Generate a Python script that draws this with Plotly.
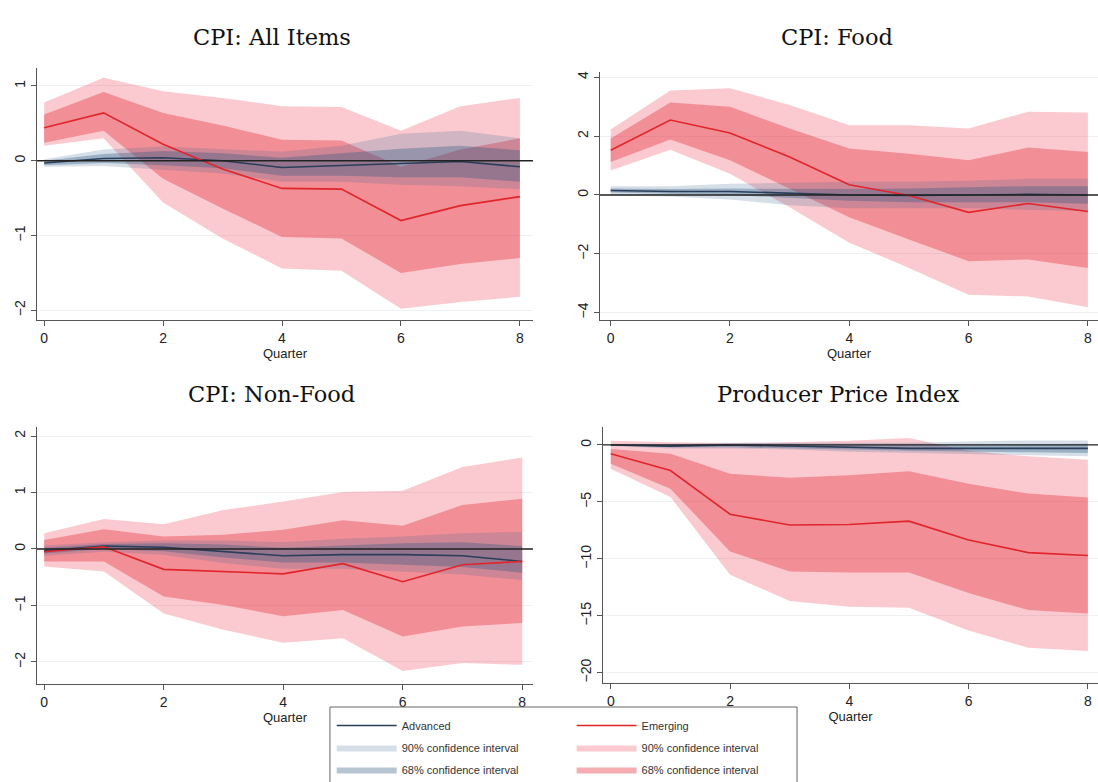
import plotly.graph_objects as go

quarters = [0, 1, 2, 3, 4, 5, 6, 7, 8]
titles = ["CPI: All Items", "CPI: Food", "CPI: Non-Food", "Producer Price Index"]

# ---- Panel 1: CPI All Items ----
p1_em = [0.44, 0.64, 0.22, -0.11, -0.37, -0.38, -0.80, -0.60, -0.48]
p1_em68_lo = [0.24, 0.40, -0.24, -0.64, -1.02, -1.04, -1.50, -1.38, -1.30]
p1_em68_hi = [0.62, 0.92, 0.64, 0.47, 0.28, 0.27, -0.08, 0.15, 0.30]
p1_em90_lo = [0.20, 0.30, -0.56, -1.04, -1.44, -1.47, -1.98, -1.89, -1.82]
p1_em90_hi = [0.78, 1.11, 0.93, 0.84, 0.73, 0.72, 0.40, 0.73, 0.84]
p1_ad = [-0.03, 0.03, 0.04, 0.00, -0.09, -0.06, -0.04, -0.01, -0.08]
p1_ad68_lo = [-0.06, -0.03, -0.06, -0.10, -0.20, -0.20, -0.22, -0.22, -0.28]
p1_ad68_hi = [0.00, 0.09, 0.13, 0.10, 0.04, 0.10, 0.16, 0.20, 0.14]
p1_ad90_lo = [-0.08, -0.07, -0.12, -0.17, -0.28, -0.28, -0.32, -0.34, -0.38]
p1_ad90_hi = [0.02, 0.15, 0.19, 0.16, 0.12, 0.20, 0.36, 0.40, 0.30]

# ---- Panel 2: CPI Food ----
p2_em = [1.52, 2.55, 2.11, 1.29, 0.35, -0.02, -0.59, -0.29, -0.56]
p2_em68_lo = [1.12, 1.89, 1.18, 0.21, -0.76, -1.51, -2.25, -2.19, -2.48]
p2_em68_hi = [1.92, 3.14, 3.00, 2.26, 1.58, 1.40, 1.18, 1.61, 1.46]
p2_em90_lo = [0.83, 1.54, 0.72, -0.42, -1.62, -2.48, -3.39, -3.45, -3.82]
p2_em90_hi = [2.23, 3.55, 3.63, 3.06, 2.37, 2.37, 2.26, 2.83, 2.80]
p2_ad = [0.15, 0.12, 0.12, 0.05, 0.00, -0.02, 0.00, 0.02, 0.00]
p2_ad68_lo = [0.08, 0.04, 0.00, -0.10, -0.20, -0.25, -0.25, -0.25, -0.30]
p2_ad68_hi = [0.22, 0.20, 0.22, 0.20, 0.20, 0.22, 0.25, 0.30, 0.30]
p2_ad90_lo = [0.00, -0.05, -0.15, -0.35, -0.45, -0.45, -0.45, -0.50, -0.55]
p2_ad90_hi = [0.30, 0.30, 0.38, 0.42, 0.45, 0.45, 0.48, 0.55, 0.55]

# ---- Panel 3: CPI Non-Food ----
p3_em = [-0.05, 0.04, -0.36, -0.40, -0.44, -0.26, -0.58, -0.28, -0.22]
p3_em68_lo = [-0.22, -0.22, -0.84, -0.99, -1.19, -1.08, -1.55, -1.37, -1.31]
p3_em68_hi = [0.16, 0.35, 0.22, 0.25, 0.34, 0.51, 0.41, 0.78, 0.89]
p3_em90_lo = [-0.31, -0.40, -1.14, -1.43, -1.66, -1.58, -2.16, -2.02, -2.05]
p3_em90_hi = [0.28, 0.53, 0.44, 0.69, 0.84, 1.01, 1.03, 1.45, 1.62]
p3_ad = [-0.03, 0.05, 0.03, -0.04, -0.12, -0.10, -0.10, -0.12, -0.22]
p3_ad68_lo = [-0.08, 0.00, -0.04, -0.15, -0.24, -0.24, -0.28, -0.32, -0.42]
p3_ad68_hi = [0.02, 0.09, 0.10, 0.08, 0.02, 0.06, 0.10, 0.12, 0.05]
p3_ad90_lo = [-0.12, -0.05, -0.10, -0.25, -0.35, -0.35, -0.40, -0.45, -0.55]
p3_ad90_hi = [0.06, 0.12, 0.15, 0.15, 0.12, 0.18, 0.22, 0.28, 0.30]

# ---- Panel 4: Producer Price Index ----
p4_em = [-0.78, -2.24, -6.08, -7.03, -6.98, -6.69, -8.34, -9.45, -9.71]
p4_em68_lo = [-1.66, -3.84, -9.36, -11.1, -11.2, -11.2, -13.0, -14.5, -14.8]
p4_em68_hi = [-0.35, -0.78, -2.53, -2.88, -2.67, -2.30, -3.40, -4.27, -4.62]
p4_em90_lo = [-2.09, -4.56, -11.4, -13.7, -14.2, -14.3, -16.3, -17.8, -18.1]
p4_em90_hi = [0.38, 0.23, 0.17, 0.23, 0.38, 0.61, -0.50, -1.00, -1.30]
p4_ad = [0.00, -0.10, 0.00, -0.10, -0.20, -0.30, -0.30, -0.30, -0.30]
p4_ad68_lo = [-0.05, -0.20, -0.20, -0.30, -0.40, -0.50, -0.60, -0.65, -0.70]
p4_ad68_hi = [0.05, 0.00, 0.10, 0.10, 0.00, 0.00, 0.00, 0.05, 0.10]
p4_ad90_lo = [-0.10, -0.30, -0.30, -0.40, -0.60, -0.70, -0.80, -0.90, -1.00]
p4_ad90_hi = [0.10, 0.10, 0.20, 0.20, 0.20, 0.20, 0.30, 0.40, 0.40]

panels = [
    dict(em=p1_em, em68=(p1_em68_lo, p1_em68_hi), em90=(p1_em90_lo, p1_em90_hi),
         ad=p1_ad, ad68=(p1_ad68_lo, p1_ad68_hi), ad90=(p1_ad90_lo, p1_ad90_hi)),
    dict(em=p2_em, em68=(p2_em68_lo, p2_em68_hi), em90=(p2_em90_lo, p2_em90_hi),
         ad=p2_ad, ad68=(p2_ad68_lo, p2_ad68_hi), ad90=(p2_ad90_lo, p2_ad90_hi)),
    dict(em=p3_em, em68=(p3_em68_lo, p3_em68_hi), em90=(p3_em90_lo, p3_em90_hi),
         ad=p3_ad, ad68=(p3_ad68_lo, p3_ad68_hi), ad90=(p3_ad90_lo, p3_ad90_hi)),
    dict(em=p4_em, em68=(p4_em68_lo, p4_em68_hi), em90=(p4_em90_lo, p4_em90_hi),
         ad=p4_ad, ad68=(p4_ad68_lo, p4_ad68_hi), ad90=(p4_ad90_lo, p4_ad90_hi)),
]

x_ranges = [[-0.12, 8.22], [-0.18, 8.17], [-0.12, 8.18], [-0.13, 8.17]]
y_ranges = [[-2.13, 1.24], [-4.25, 4.18], [-2.39, 2.16], [-20.9, 1.58]]
y_ticks = [[-2, -1, 0, 1], [-4, -2, 0, 2, 4], [-2, -1, 0, 1, 2], [-20, -15, -10, -5, 0]]
x_domains = [[0.0337, 0.4854], [0.5464, 1.0], [0.0337, 0.4854], [0.5492, 1.0]]
y_domains = [[0.5908, 0.9130], [0.5908, 0.9079], [0.1253, 0.4540], [0.1266, 0.4540]]

RED90 = "rgba(235,60,80,0.27)"
RED68 = "rgba(230,60,70,0.42)"
BLUE90 = "rgba(70,110,150,0.22)"
BLUE68 = "rgba(50,90,130,0.35)"
REDLINE = "#E0252B"
BLUELINE = "#2A3D5A"

fig = go.Figure()


def band(lo, hi, color, name, legend, show, xa, ya, rank, group):
    xs = quarters + quarters[::-1]
    ys = list(hi) + list(lo)[::-1]
    fig.add_trace(go.Scatter(x=xs, y=ys, fill="toself", fillcolor=color,
                             line=dict(width=0), mode="lines", name=name,
                             legend=legend, showlegend=show, hoverinfo="skip",
                             xaxis=xa, yaxis=ya, legendrank=rank, legendgroup=group))


for i, p in enumerate(panels):
    xa = "x" if i == 0 else f"x{i+1}"
    ya = "y" if i == 0 else f"y{i+1}"
    show = i == 0
    band(*p["em90"], RED90, "90% confidence interval", "legend2", show, xa, ya, 2, "e90")
    band(*p["em68"], RED68, "68% confidence interval", "legend2", show, xa, ya, 3, "e68")
    band(*p["ad90"], BLUE90, "90% confidence interval", "legend", show, xa, ya, 2, "a90")
    band(*p["ad68"], BLUE68, "68% confidence interval", "legend", show, xa, ya, 3, "a68")
    fig.add_trace(go.Scatter(x=quarters, y=p["ad"], mode="lines", name="Advanced",
                             line=dict(color=BLUELINE, width=1.6), legend="legend",
                             showlegend=show, xaxis=xa, yaxis=ya, legendrank=1,
                             legendgroup="adv"))
    fig.add_trace(go.Scatter(x=quarters, y=p["em"], mode="lines", name="Emerging",
                             line=dict(color=REDLINE, width=1.6), legend="legend2",
                             showlegend=show, xaxis=xa, yaxis=ya, legendrank=1,
                             legendgroup="emg"))

tick_font = dict(family="Liberation Sans, Arial, sans-serif", size=14, color="#222")
layout = dict(width=1098, height=782, autosize=False,
              margin=dict(l=0, r=0, t=0, b=0, autoexpand=False),
              paper_bgcolor="white", plot_bgcolor="white",
              showlegend=True)

for i in range(4):
    xk = "xaxis" if i == 0 else f"xaxis{i+1}"
    yk = "yaxis" if i == 0 else f"yaxis{i+1}"
    ya = "y" if i == 0 else f"y{i+1}"
    xa = "x" if i == 0 else f"x{i+1}"
    layout[xk] = dict(domain=x_domains[i], range=x_ranges[i], anchor=ya,
                      tickvals=[0, 2, 4, 6, 8], ticks="outside", ticklen=5,
                      tickcolor="#555", showline=True, linecolor="#555", linewidth=1,
                      showgrid=False, zeroline=False, tickfont=tick_font,
                      automargin=False, ticklabeloverflow="allow",
                      title=dict(text="Quarter", standoff=2,
                                 font=dict(family="Liberation Sans, Arial, sans-serif",
                                           size=13, color="#222")))
    layout[yk] = dict(domain=y_domains[i], range=y_ranges[i], anchor=xa,
                      tickvals=y_ticks[i], ticks="outside", ticklen=5,
                      tickcolor="#555", showline=True, linecolor="#555", linewidth=1,
                      showgrid=True, gridcolor="#EEF1F4", gridwidth=1,
                      automargin=False, ticklabeloverflow="allow",
                      zeroline=False, tickangle=-90, tickfont=tick_font)

title_x = [0.2477, 0.7623, 0.2477, 0.7632]
title_y = [0.9527, 0.9527, 0.4962, 0.4962]
annotations = []
for i in range(4):
    annotations.append(dict(text=titles[i], xref="paper", yref="paper",
                            x=title_x[i], y=title_y[i], showarrow=False,
                            xanchor="center", yanchor="middle",
                            font=dict(family="DejaVu Serif, serif", size=22.5, color="#111")))
layout["annotations"] = annotations

leg_font = dict(family="Liberation Sans, Arial, sans-serif", size=11, color="#333")
layout["legend"] = dict(x=0.3021, y=0.0908, xanchor="left", yanchor="top",
                        font=leg_font, itemwidth=60, bgcolor="rgba(0,0,0,0)",
                        tracegroupgap=3, traceorder="grouped")
layout["legend2"] = dict(x=0.5206, y=0.0908, xanchor="left", yanchor="top",
                         font=leg_font, itemwidth=60, bgcolor="rgba(0,0,0,0)",
                         tracegroupgap=3, traceorder="grouped")

fig.update_layout(**layout)

for i in range(4):
    xa = "x" if i == 0 else f"x{i+1}"
    ya = "y" if i == 0 else f"y{i+1}"
    fig.add_shape(type="line", xref=f"{xa} domain", yref=ya, x0=0, x1=1, y0=0, y1=0,
                  line=dict(color="#222", width=1.3), layer="above")

fig.add_shape(type="rect", xref="paper", yref="paper", x0=0.3005, x1=0.7259,
              y0=-0.05, y1=0.0959, line=dict(color="#666", width=1),
              fillcolor="rgba(0,0,0,0)", layer="above")

fig.write_html("out.html",
               config={"displayModeBar": False},
               post_script="document.body.style.margin='0px';"
                           "document.body.style.overflow='hidden';")
